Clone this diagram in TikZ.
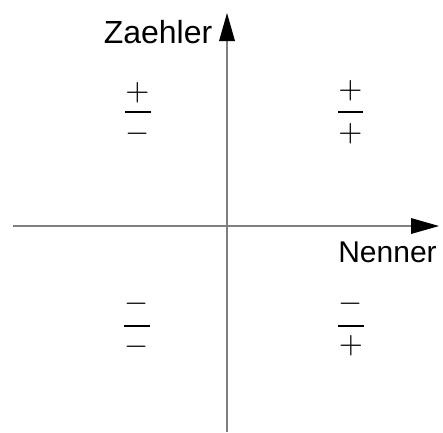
\documentclass[tikz,border=0pt]{standalone}
\usepackage{fontspec}
\setmainfont{Liberation Sans}
\usepackage{graphicx}
\usetikzlibrary{arrows.meta}
\definecolor{axisgray}{HTML}{808080}
\begin{document}
\begin{tikzpicture}[x=1pt,y=-1pt,
  axis/.style={draw=axisgray,line width=1.6pt,-{Triangle[length=28pt,width=16pt,line width=0pt,color=black,fill=black]}},
  sym/.style={inner sep=0pt,anchor=center},
  fbar/.style={draw=black,line width=1.6pt},
  lbl/.style={inner sep=0pt,anchor=base}]
\useasboundingbox (0,0) rectangle (443,432);
% axes
\coordinate (xs) at (13,226);
\coordinate (xe) at (439,226);
\coordinate (ys) at (227,432);
\coordinate (ye) at (227,13);
\draw[axis] (xs) -- (xe);
\draw[axis] (ys) -- (ye);
% labels
\node[lbl,font=\fontsize{32}{32}\selectfont] (zaehler) at (158,43) {Zaehler};
\node[lbl,font=\fontsize{30}{30}\selectfont] (nenner) at (387.5,262) {Nenner};
% top left: + / -
\node[sym] (tlnum) at (137.5,93) {\scalebox{3.1}{$+$}};
\coordinate (tlb1) at (125,111.7);
\coordinate (tlb2) at (151,111.7);
\draw[fbar] (tlb1) -- (tlb2);
\node[sym] (tlden) at (137.5,134) {\scalebox{3.1}{$-$}};
% top right: + / +
\node[sym] (trnum) at (350.5,91) {\scalebox{3.1}{$+$}};
\coordinate (trb1) at (338,111.7);
\coordinate (trb2) at (363,111.7);
\draw[fbar] (trb1) -- (trb2);
\node[sym] (trden) at (350.5,133.5) {\scalebox{3.1}{$+$}};
% bottom right: - / +
\node[sym] (brnum) at (351,304) {\scalebox{3.1}{$-$}};
\coordinate (brb1) at (338,325.7);
\coordinate (brb2) at (364,325.7);
\draw[fbar] (brb1) -- (brb2);
\node[sym] (brden) at (351,346) {\scalebox{3.1}{$+$}};
% bottom left: - / -
\node[sym] (blnum) at (137,304) {\scalebox{3.1}{$-$}};
\coordinate (blb1) at (124,325.7);
\coordinate (blb2) at (150,325.7);
\draw[fbar] (blb1) -- (blb2);
\node[sym] (blden) at (137,347) {\scalebox{3.1}{$-$}};
\end{tikzpicture}
\end{document}
